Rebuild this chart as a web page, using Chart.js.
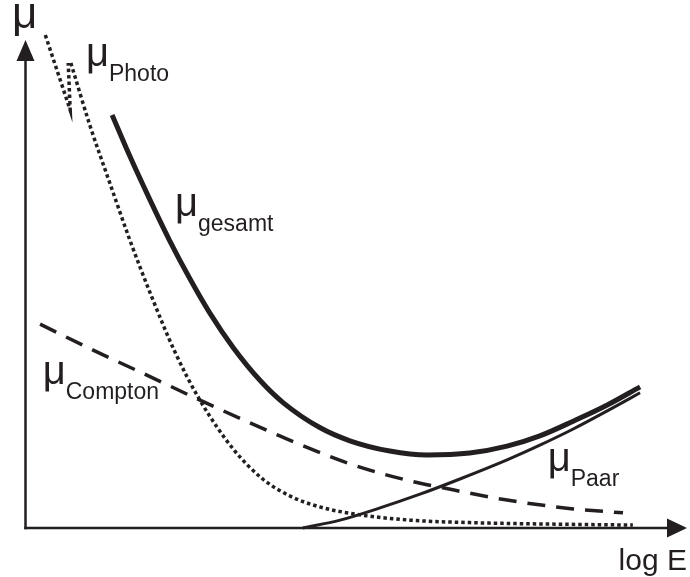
<!DOCTYPE html>
<html>
<head>
<meta charset="utf-8">
<title>Schwächungskoeffizient μ über log E</title>
<script src="https://cdn.jsdelivr.net/npm/chart.js@4/dist/chart.umd.min.js"></script>
<style>
  html, body { margin: 0; padding: 0; background: #ffffff; }
  #wrap { width: 690px; height: 577px; }
</style>
</head>
<body>
<div id="wrap"><canvas id="c" width="690" height="577"></canvas></div>
<script>
// Schematic curves, log E on x (0..10), μ on y (0..10), arbitrary units.

// Photoeffect: steep fall with an absorption edge near the start
const photoEdgeX = [0.31, 0.69, 0.66];
const photoEdgeY = [10.06, 8.53, 9.49];
const photoX = [0.70, 0.99, 1.30, 1.60, 1.91, 2.29, 2.67, 3.18, 3.63, 4.05, 4.50, 5.11, 5.88, 6.79, 8.02, 9.28];
const photoY = [9.49, 8.22, 7.02, 5.88, 4.80, 3.59, 2.61, 1.61, 1.00, 0.65, 0.43, 0.27, 0.16, 0.11, 0.08, 0.06];

// Compton scattering
const comptonX = [0.23, 1.04, 1.86, 2.67, 3.89, 4.96, 5.88, 6.38, 7.36, 8.37, 9.13];
const comptonY = [4.16, 3.63, 3.12, 2.61, 1.88, 1.31, 0.96, 0.82, 0.57, 0.39, 0.31];

// Pair production, starting at its threshold energy
const paarX = [4.24, 4.81, 5.42, 6.03, 6.64, 7.36, 7.86, 8.37, 8.89, 9.39];
const paarY = [0.00, 0.16, 0.41, 0.69, 1.00, 1.39, 1.69, 2.02, 2.39, 2.76];

// Total attenuation
const gesamtX = [1.33, 1.60, 1.91, 2.21, 2.52, 2.82, 3.18, 3.59, 3.94, 4.50, 4.96, 5.57, 6.14, 6.79, 7.36, 7.86, 8.37, 8.89, 9.39];
const gesamtY = [8.43, 7.59, 6.69, 5.86, 5.08, 4.39, 3.68, 3.01, 2.56, 2.05, 1.78, 1.57, 1.49, 1.53, 1.67, 1.88, 2.18, 2.51, 2.88];

// Curve labels: μ with a subscript
const labelMain = ['μ', 'μ', 'μ', 'μ'];
const labelSub = ['Photo', 'gesamt', 'Compton', 'Paar'];
const labelX = [0.93, 2.29, 0.27, 7.98];
const labelY = [9.43, 6.37, 2.94, 1.16];

const INK = '#231f20';

function pts(xs, ys) { return xs.map((x, i) => ({ x: x, y: ys[i] })); }

const axesAndLabels = {
  id: 'axesAndLabels',
  afterDatasetsDraw(chart) {
    const { ctx, chartArea: a, scales } = chart;
    const x0 = a.left + 0.5, y0 = a.bottom;
    ctx.save();
    ctx.strokeStyle = INK;
    ctx.fillStyle = INK;
    ctx.lineWidth = 2.5;
    ctx.lineCap = 'butt';
    // y axis with arrow
    ctx.beginPath();
    ctx.moveTo(x0, y0 + 1.25);
    ctx.lineTo(x0, a.top + 20);
    ctx.stroke();
    ctx.beginPath();
    ctx.moveTo(x0, a.top + 2);
    ctx.lineTo(x0 - 9, a.top + 23);
    ctx.lineTo(x0 + 9, a.top + 23);
    ctx.closePath();
    ctx.fill();
    // x axis with arrow
    ctx.beginPath();
    ctx.moveTo(x0 - 1.25, y0);
    ctx.lineTo(a.right - 12, y0);
    ctx.stroke();
    ctx.beginPath();
    ctx.moveTo(a.right + 7, y0);
    ctx.lineTo(a.right - 13, y0 - 9.5);
    ctx.lineTo(a.right - 13, y0 + 9.5);
    ctx.closePath();
    ctx.fill();

    // axis titles
    ctx.textBaseline = 'alphabetic';
    ctx.font = '44px "Liberation Sans", Arial, sans-serif';
    ctx.textAlign = 'left';
    ctx.fillText('μ', 12, a.top - 10);
    ctx.font = '30px "Liberation Sans", Arial, sans-serif';
    ctx.textAlign = 'right';
    ctx.fillText('log E', a.right + 7, a.bottom + 42);

    // curve labels
    ctx.textAlign = 'left';
    for (let i = 0; i < labelSub.length; i++) {
      const px = scales.x.getPixelForValue(labelX[i]);
      const py = scales.y.getPixelForValue(labelY[i]);
      ctx.font = '40px "Liberation Sans", Arial, sans-serif';
      ctx.fillText(labelMain[i], px, py);
      const w = ctx.measureText(labelMain[i]).width;
      ctx.font = '23px "Liberation Sans", Arial, sans-serif';
      ctx.fillText(labelSub[i], px + w, py + 15);
    }
    ctx.restore();
  }
};

const common = { pointRadius: 0, fill: false, clip: false, borderColor: INK, borderCapStyle: 'butt' };

new Chart(document.getElementById('c'), {
  type: 'line',
  data: {
    datasets: [
      Object.assign({ label: 'Photo (Kante)', data: pts(photoEdgeX, photoEdgeY),
        borderWidth: 3.5, borderDash: [3.5, 3], tension: 0 }, common),
      Object.assign({ label: 'Photo', data: pts(photoX, photoY),
        borderWidth: 3.5, borderDash: [3.5, 3], cubicInterpolationMode: 'monotone' }, common),
      Object.assign({ label: 'Compton', data: pts(comptonX, comptonY),
        borderWidth: 3.5, borderDash: [18, 11], cubicInterpolationMode: 'monotone' }, common),
      Object.assign({ label: 'Paar', data: pts(paarX, paarY),
        borderWidth: 3, cubicInterpolationMode: 'monotone' }, common),
      Object.assign({ label: 'gesamt', data: pts(gesamtX, gesamtY),
        borderWidth: 5, cubicInterpolationMode: 'monotone' }, common)
    ]
  },
  options: {
    responsive: false,
    animation: false,
    layout: { padding: { left: 25, top: 38, right: 10, bottom: 49 } },
    plugins: { legend: { display: false }, tooltip: { enabled: false } },
    scales: {
      x: { type: 'linear', min: 0, max: 10, display: false },
      y: { type: 'linear', min: 0, max: 10, display: false }
    }
  },
  plugins: [axesAndLabels]
});
</script>
</body>
</html>
